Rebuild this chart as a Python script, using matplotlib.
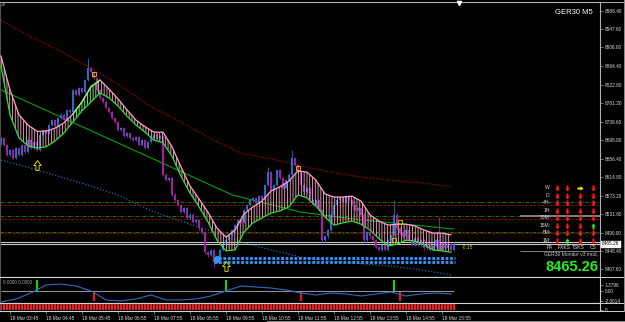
import numpy as np
import matplotlib.pyplot as plt
from matplotlib.path import Path
from matplotlib.lines import Line2D
from matplotlib.transforms import Affine2D

plt.rcParams['font.family'] = ['Liberation Sans', 'DejaVu Sans']
plt.rcParams['hatch.linewidth'] = 0.6

W, H = 625, 322

# ---- data (GER30, M5) ----
closes = [8703, 8687, 8665, 8676, 8658, 8680, 8665, 8687, 8671, 8698,
          8680, 8694, 8676, 8710, 8721, 8714, 8732, 8743, 8730, 8748,
          8755, 8743, 8766, 8761, 8811, 8800, 8815, 8806, 8833, 8860,
          8851, 8838, 8811, 8793, 8784, 8770, 8761, 8748, 8739, 8721,
          8725, 8707, 8714, 8703, 8698, 8705, 8687, 8698, 8680, 8694,
          8703, 8710, 8703, 8707, 8620, 8608, 8613, 8575, 8563, 8552,
          8536, 8545, 8523, 8530, 8514, 8518, 8500, 8491, 8446, 8440,
          8451, 8424, 8433, 8451, 8462, 8473, 8485, 8496, 8507, 8518,
          8514, 8541, 8552, 8563, 8568, 8557, 8572, 8563, 8597, 8626,
          8586, 8597, 8631, 8613, 8590, 8608, 8620, 8658, 8642, 8626,
          8597, 8581, 8590, 8563, 8552, 8563, 8541, 8473, 8482, 8496,
          8530, 8552, 8563, 8568, 8559, 8572, 8563, 8552, 8541, 8545,
          8530, 8473, 8491, 8482, 8473, 8458, 8451, 8462, 8451, 8473,
          8485, 8530, 8500, 8491, 8482, 8496, 8473, 8462, 8478, 8462,
          8473, 8455, 8464, 8451, 8460, 8473, 8451, 8467, 8455, 8464,
          8451, 8465.26]
first_open = 8690
wick_hi = {29: 8883, 89: 8638, 97: 8676, 131: 8563, 146: 8525}
wick_lo = {69: 8435, 71: 8410}

ribbon_bars = list(range(0, 151, 3))
rib_up = [8887, 8811, 8755, 8732, 8718, 8718, 8725, 8737, 8757, 8784, 8818, 8833, 8813,
          8791, 8766, 8743, 8728, 8716, 8716, 8683, 8638, 8595, 8566, 8536, 8500, 8480,
          8496, 8532, 8548, 8561, 8584, 8593, 8606, 8629, 8626, 8608, 8577, 8570, 8570,
          8572, 8561, 8530, 8516, 8507, 8509, 8509, 8505, 8496, 8489, 8489, 8485]
rib_lo = [8865, 8755, 8703, 8685, 8680, 8683, 8696, 8714, 8739, 8764, 8784, 8804, 8793,
          8775, 8752, 8732, 8716, 8698, 8692, 8662, 8617, 8579, 8548, 8514, 8473, 8449,
          8451, 8491, 8512, 8523, 8534, 8539, 8548, 8575, 8568, 8550, 8525, 8507, 8512,
          8516, 8509, 8496, 8476, 8460, 8464, 8473, 8471, 8462, 8451, 8449, 8446]

ma_bars = list(range(0, 151, 10))
slow_ma = [8968, 8930, 8898, 8860, 8820, 8773, 8739, 8701, 8669, 8656, 8640, 8626, 8615, 8608, 8602, 8593]
low_ma = [8653, 8635, 8615, 8595, 8572, 8539, 8516, 8494, 8469, 8451, 8435, 8426, 8420, 8415, 8406, 8395]

trend_bars = [0, 50, 77, 100, 117, 151]
trend_vals = [8811, 8658, 8575, 8536, 8521, 8498]

levels_green = [8558.2, 8528.1, 8492.1]
levels_red = [8552.1, 8520.0, 8488.5]
bid_ask = [8468.3, 8463.7]
support_band = [8433, 8424]

up_arrows = [(12, 8642), (75, 8415)]
boxes = [(31, 8846), (99, 8635), (133, 8514), (131, 8473)]

ind_bars = list(range(0, 151, 5))
ind_vals = [-2.28, -1.63, -0.34, 1.38, 1.59, 1.16, 0.09, -1.85, -2.06, -1.63, -0.77,
            -1.85, -1.85, -1.63, -0.99, 0.09, 1.16, 0.95, 0.73, 0.30, -0.34, -0.77,
            -0.34, -0.56, -0.99, -0.56, -0.13, -0.99, -0.56, -0.34, -0.56]
sig_up = [12, 75, 131]
sig_dn = [31, 100, 133]

price_ticks = [8988.40, 8947.60, 8906.80, 8864.40, 8822.80, 8781.20, 8739.60, 8698.80,
               8656.40, 8614.80, 8573.20, 8531.60, 8490.00, 8448.40, 8407.60]
time_bars = [3, 15, 27, 39, 51, 63, 75, 87, 99, 111, 123, 135, 147]
time_labels = ['18 Mar 03:45', '18 Mar 04:45', '18 Mar 05:45', '18 Mar 06:55',
               '18 Mar 07:55', '18 Mar 08:55', '18 Mar 09:55', '18 Mar 10:55',
               '18 Mar 11:55', '18 Mar 12:55', '18 Mar 13:55', '18 Mar 14:55',
               '18 Mar 15:55']

rows = ['W:', 'D:', '4H:', '1H:', '30M:', '15M:', '5M:', '1M:']
cols = ['PA', 'FXKS', 'TSKS', 'CS']
signals = [['d', 'd', 'r', 'd'], ['d', 'd', 'd', 'd'], ['d', 'd', 'd', 'd'],
           ['d', 'd', 'd', 'd'], ['d', 'd', 'd', 'd'], ['d', 'd', 'd', 'u'],
           ['d', 'd', 'd', 'd'], ['d', 'u', 'd', 'd']]

# ---- figure ----
fig = plt.figure(figsize=(W / 100, H / 100), dpi=100, facecolor='black')
pix = Affine2D().scale(1.0 / W, -1.0 / H).translate(0, 1) + fig.transFigure
xl = (-0.33, 199.67)

ax = fig.add_axes([0, 45 / H, 600 / W, 275 / H], facecolor='black')
ax.set_xlim(*xl)
ax.set_ylim(8390.2, 9008.6)

n = len(closes)
bars = np.arange(n)
c = np.array(closes, dtype=float)
o = np.r_[first_open, c[:-1]]
hi = np.maximum(o, c) + 3
lo = np.minimum(o, c) - 3
for k, v in wick_hi.items():
    hi[k] = v
for k, v in wick_lo.items():
    lo[k] = v
up = c >= o
col = np.where(up, '#2070c8', '#a81ca8')
ax.vlines(bars, lo, hi, colors=col, lw=0.6, zorder=2)
ax.bar(bars, np.maximum(np.abs(c - o), 1.5), bottom=np.minimum(o, c), width=0.65,
       color=col, lw=0, zorder=2)

# ribbon
rb = np.array(ribbon_bars)
bull = (rb >= 24) & (rb <= 33)
bear = ~((rb > 24) & (rb < 33))
ax.fill_between(rb, rib_up, rib_lo, where=bear, facecolor='none', edgecolor='#f7a3c6',
                hatch='||||||', linewidth=0, zorder=3)
ax.fill_between(rb, rib_up, rib_lo, where=bull, facecolor='none', edgecolor='#80ff80',
                hatch='||||||', linewidth=0, zorder=3)
ax.plot(rb, rib_up, color='#ffa0c8', lw=0.9, zorder=4)
ax.plot(rb[bull], np.array(rib_up)[bull], color='#70ff70', lw=0.9, zorder=4)
ax.plot(rb, rib_lo, color='#30e030', lw=0.9, zorder=4)

# moving averages and trend line
ax.plot(ma_bars, slow_ma, color='#b00000', lw=0.9, ls=(0, (1, 1.5)), zorder=1)
ax.plot(ma_bars, low_ma, color='#2266b8', lw=0.9, ls=(0, (1, 1.5)), zorder=1)
ax.plot(trend_bars, trend_vals, color='#00a000', lw=0.8, zorder=1)

for v in levels_green:
    ax.axhline(v, color='#00a000', lw=0.6, ls=(0, (4, 2, 1, 2)), zorder=1)
for v in levels_red:
    ax.axhline(v, color='#b00000', lw=0.6, ls=(0, (3, 2)), zorder=1)
for v in bid_ask:
    ax.axhline(v, color='#c8c8c8', lw=0.8, zorder=1)

ax.hlines(support_band, 71, n - 0.5, color='#3399ff', lw=2.0, ls=(0, (1, 0.6)), zorder=4)
ax.plot(72, 8431, 'o', color='#3399ff', ms=4, zorder=5)

up_path = Path([(-0.2, -0.6), (0.2, -0.6), (0.2, 0), (0.45, 0), (0, 0.6), (-0.45, 0),
                (-0.2, 0), (-0.2, -0.6)], closed=True)
dn_path = Path([(-0.2, 0.6), (0.2, 0.6), (0.2, 0), (0.45, 0), (0, -0.6), (-0.45, 0),
                (-0.2, 0), (-0.2, 0.6)], closed=True)
rt_path = Path([(-0.6, -0.2), (-0.6, 0.2), (0, 0.2), (0, 0.45), (0.6, 0), (0, -0.45),
                (0, -0.2), (-0.6, -0.2)], closed=True)

for b, p in up_arrows:
    ax.plot(b, p, marker=up_path, ms=7, mfc='none', mec='#e0d000', mew=0.7, zorder=5)
for b, p in boxes:
    ax.plot(b, p, marker='s', ms=3.2, mfc='none', mec='#d0b800', mew=0.7, zorder=5)
ax.text(153.5, 8457, '-0.15', color='#c8c800', fontsize=3.6, va='center')

# gray table bars
ax.hlines([8527.4], 173, xl[1], color='#808080', lw=1.4, zorder=1)
ax.hlines([8448.6], 173, xl[1], color='#808080', lw=0.7, zorder=1)

ax.set_xticks([])
ax.yaxis.tick_right()
ax.set_yticks(price_ticks)
ax.set_yticklabels(['%.2f' % v for v in price_ticks])
ax.tick_params(axis='y', colors='#a0a0a0', labelcolor='#d8d8d8', labelsize=3.4,
               length=2, width=0.5, pad=1.5)
for s in ['top', 'right']:
    ax.spines[s].set_color('#b0b0b0')
ax.spines['bottom'].set_color('#e0e0e0')
ax.spines['left'].set_color('#505050')

# ---- indicator sub window ----
ai = fig.add_axes([0, 19 / H, 600 / W, 26 / H], facecolor='black')
ai.set_xlim(*xl)
ai.set_ylim(-2.5, 3.1)
ai.hlines(0, 0, n - 1, color='#909090', lw=0.8)
ai.plot(ind_bars, ind_vals, color='#2a6cc0', lw=0.8)
ai.bar(sig_up, [2.45] * len(sig_up), width=0.9, color='#00e000')
ai.bar(sig_dn, [-2.06] * len(sig_dn), width=0.9, color='#ff1010')
ai.set_xticks([])
ai.yaxis.tick_right()
ai.set_yticks([1.3796, 0, -2.0014])
ai.set_yticklabels(['1.3796', '0.00', '-2.0014'])
ai.tick_params(axis='y', colors='#a0a0a0', labelcolor='#d8d8d8', labelsize=3.4,
               length=2, width=0.5, pad=1.5)
for s in ai.spines.values():
    s.set_color('#d0d0d0')
ai.spines['left'].set_color('#505050')
fig.text(3, 283, '0.0000 0.0000', transform=pix, color='#a0a0a0', fontsize=3.4, va='center')

# ---- red histogram strip ----
ast = fig.add_axes([0, 11 / H, 600 / W, 8 / H], facecolor='black')
ast.set_xlim(*xl)
ast.set_ylim(-0.2, 1.1)
ast.bar(bars, np.ones(n), width=0.65, color='#ff1818', lw=0)
ast.yaxis.tick_right()
ast.set_yticks([0])
ast.set_yticklabels(['0'])
ast.set_xticks(time_bars)
ast.set_xticklabels(time_labels, ha='left')
ast.tick_params(axis='both', colors='#a0a0a0', labelcolor='#d8d8d8', labelsize=3.4,
                length=2, width=0.5, pad=1.5)
for s in ast.spines.values():
    s.set_color('#d0d0d0')
ast.spines['left'].set_color('#505050')

# ---- frame lines outside axes ----
for x0, y0, x1, y1, cc in [(600, 2, 624, 2, '#b0b0b0'), (600, 277, 624, 277, '#d0d0d0'),
                           (600, 303, 624, 303, '#d0d0d0'), (600, 311, 624, 311, '#d0d0d0'),
                           (623.5, 0, 623.5, 311, '#909090'), (267, 321, 625, 321, '#909090')]:
    fig.add_artist(Line2D([x0, x1], [y0, y1], transform=pix, color=cc, lw=0.7))

fig.text(1, 4, '26', transform=pix, color='#a0a0a0', fontsize=3.4, va='center')
fig.add_artist(Line2D([459], [3.5], transform=pix, marker='v', ms=3, color='white', lw=0))
fig.text(593, 13, 'GER30 M5', transform=pix, color='white', fontsize=5.5,
         ha='right', va='center')

# current price box
fig.text(602, 244, '8465.26', transform=pix, color='black', fontsize=3.4, va='center',
         bbox=dict(facecolor='white', edgecolor='white', pad=0.6))

# ---- signal table ----
col_x = [557, 567, 580, 593]
head_x = [550, 564, 578, 593]
row_y = [188, 196, 203, 211, 218, 226, 233, 241]
mk = {'d': (dn_path, '#ff1a1a'), 'u': (up_path, '#33e033'), 'r': (rt_path, '#ffe600')}
for r, name in enumerate(rows):
    fig.text(551, row_y[r], name, transform=pix, color='#d8d8d8', fontsize=3.6,
             ha='right', va='center')
    for j, s in enumerate(signals[r]):
        path, cc = mk[s]
        fig.add_artist(Line2D([col_x[j]], [row_y[r]], transform=pix, marker=path,
                              ms=4.3, mew=0, color=cc, lw=0))
for j, name in enumerate(cols):
    fig.text(head_x[j], 248, name, transform=pix, color='#d8d8d8', fontsize=3.6,
             ha='center', va='center')
fig.text(571, 255, 'GER30 Monitor v3 mod.', transform=pix, color='#c8c8c8',
         fontsize=3.6, ha='center', va='center')
fig.text(598, 267, '8465.26', transform=pix, color='#22ee22', fontsize=10.5,
         fontweight='bold', ha='right', va='center')

fig.savefig('out.png', dpi=100, facecolor='black')
